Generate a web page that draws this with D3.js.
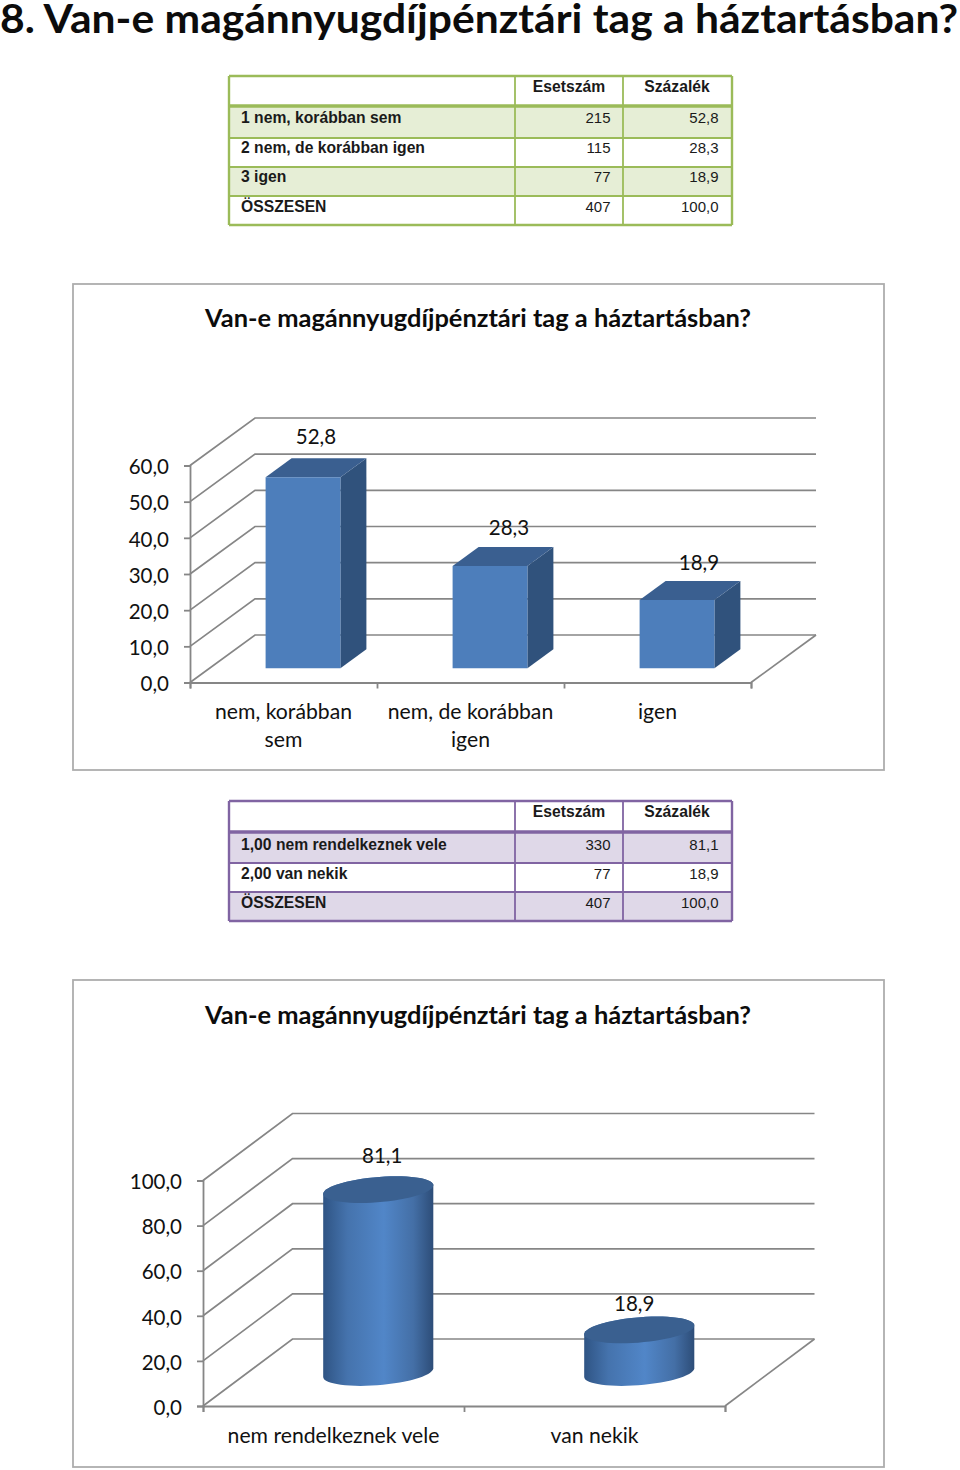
<!DOCTYPE html>
<html>
<head>
<meta charset="utf-8">
<script src="https://cdnjs.cloudflare.com/ajax/libs/d3/7.8.5/d3.min.js"></script>
<style>
  html, body { margin: 0; padding: 0; background: #fff; }
  svg { display: block; }
  .axis path, .axis line { stroke: #868686; stroke-width: 1.8; }
  .axis text { font-family: Lato, sans-serif; font-size: 20.5px; fill: #111; }
  .lbl { font-family: Lato, sans-serif; font-size: 20.5px; fill: #111; }
  .cat { font-family: Lato, sans-serif; font-size: 21.2px; fill: #111; }
  .ttl { font-family: Lato, sans-serif; font-weight: 700; fill: #0c0c0c; }
  .tbl { font-family: "Liberation Sans", Arial, sans-serif; font-size: 15px; fill: #1a1a1a; }
  .tbl.b { font-size: 15.7px; font-weight: bold; }
</style>
</head>
<body>
<svg id="page" width="960" height="1470"></svg>
<script>
const heading = "8. Van-e magánnyugdíjpénztári tag a háztartásban?"
const chartTitle = "Van-e magánnyugdíjpénztári tag a háztartásban?"
const tableHead = ["Esetszám", "Százalék"]

// first table + chart
const rows1 = ["1 nem, korábban sem", "2 nem, de korábban igen", "3 igen", "ÖSSZESEN"]
const counts1 = [215, 115, 77, 407]
const pcts1 = ["52,8", "28,3", "18,9", "100,0"]
const cats1 = [["nem, korábban", "sem"], ["nem, de korábban", "igen"], ["igen"]]
const vals1 = [52.8, 28.3, 18.9]
const ticks1 = [0, 10, 20, 30, 40, 50, 60]

// second table + chart
const rows2 = ["1,00 nem rendelkeznek vele", "2,00 van nekik", "ÖSSZESEN"]
const counts2 = [330, 77, 407]
const pcts2 = ["81,1", "18,9", "100,0"]
const cats2 = [["nem rendelkeznek vele"], ["van nekik"]]
const vals2 = [81.1, 18.9]
const ticks2 = [0, 20, 40, 60, 80, 100]

const fmt = d => d.toFixed(1).replace(".", ",")
const svg = d3.select("#page")

// gradient for the cylinders
const grad = svg.append("defs").append("linearGradient").attr("id", "cyl")
grad.append("stop").attr("offset", "0%").attr("stop-color", "#2f5484")
grad.append("stop").attr("offset", "22%").attr("stop-color", "#4573ad")
grad.append("stop").attr("offset", "55%").attr("stop-color", "#5186c8")
grad.append("stop").attr("offset", "82%").attr("stop-color", "#446fa6")
grad.append("stop").attr("offset", "100%").attr("stop-color", "#2d4d78")

svg.append("text").attr("class", "ttl").attr("x", 0).attr("y", 32.5)
  .attr("font-size", 40).attr("textLength", 958).attr("lengthAdjust", "spacingAndGlyphs").text(heading)

drawTable({ top: 76, head: 106, lines: [138, 167, 196], bottom: 225, line: "#9bbb59", fill: "#e6eed6",
  headBase: 91.5, bases: [123, 152.5, 182, 211.5] }, rows1, counts1, pcts1)
drawTable({ top: 801, head: 832, lines: [863, 892], bottom: 921, line: "#8064a2", fill: "#dfd8e8",
  headBase: 816.5, bases: [849.5, 879, 908] }, rows2, counts2, pcts2)

drawChart({ box: [73, 284, 811, 486], titleY: 326.5, x0: 190, x1: 751, y0: 682.5, yTop: 465.5, dx: 65, dy: -47.5,
  max: 60, ticks: ticks1, cats: cats1, vals: vals1, catY: 718.5, labelDx: [0, 6, 9], labelDy: [0, 2, 3], barW: 0.4, shape: "box" })
drawChart({ box: [73, 980, 811, 487], titleY: 1023.5, x0: 203, x1: 725, y0: 1406, yTop: 1180.5, dx: 89.5, dy: -67,
  max: 100, ticks: ticks2, cats: cats2, vals: vals2, catY: 1442.5, labelDx: [4, -5], labelDy: [0, 8], barW: 0.42, shape: "cyl" })

function drawTable(t, rows, counts, pcts) {
  const xL = 229, xA = 515, xB = 623, xR = 732
  const g = svg.append("g")

  // every other row is tinted, the header row is not
  const allLines = [t.head].concat(t.lines, [t.bottom])
  rows.forEach((r, i) => {
    if (i % 2 == 0) {
      g.append("rect").attr("x", xL).attr("y", allLines[i]).attr("width", xR - xL)
        .attr("height", allLines[i + 1] - allLines[i]).attr("fill", t.fill)
    }
  })

  const hline = (y, w) => g.append("line").attr("x1", xL).attr("x2", xR).attr("y1", y).attr("y2", y)
    .attr("stroke", t.line).attr("stroke-width", w)
  hline(t.top, 2.4)
  hline(t.head, 3.4)
  t.lines.forEach(y => hline(y, 1.8))
  hline(t.bottom, 2.4)
  ;[xL, xA, xB, xR].forEach((x, i) => {
    g.append("line").attr("x1", x).attr("x2", x).attr("y1", t.top).attr("y2", t.bottom)
      .attr("stroke", t.line).attr("stroke-width", i == 0 || i == 3 ? 2.4 : 1.8)
  })

  tableHead.forEach((h, i) => {
    g.append("text").attr("class", "tbl b").attr("x", i == 0 ? 569 : 677).attr("y", t.headBase)
      .attr("text-anchor", "middle").style("font-weight", "normal").style("font-weight", "bold").text(h)
  })
  rows.forEach((r, i) => {
    g.append("text").attr("class", "tbl b").attr("x", 241).attr("y", t.bases[i]).text(r)
    g.append("text").attr("class", "tbl").attr("x", 610.5).attr("y", t.bases[i]).attr("text-anchor", "end").text(counts[i])
    g.append("text").attr("class", "tbl").attr("x", 718.5).attr("y", t.bases[i]).attr("text-anchor", "end").text(pcts[i])
  })
}

function drawChart(c) {
  const g = svg.append("g")
  const n = c.vals.length

  const y = d3.scaleLinear().domain([0, c.max]).range([c.y0, c.yTop])
  const x = d3.scaleBand().domain(d3.range(n)).range([c.x0, c.x1]).paddingInner(0).paddingOuter(0)
  const edge = d3.scaleLinear().domain([0, n]).range([c.x0, c.x1])
  // depth 0 = front plane, 1 = back wall
  const px = (xv, d) => xv + d * c.dx
  const py = (yv, d) => y(yv) + d * c.dy

  g.append("rect").attr("x", c.box[0]).attr("y", c.box[1]).attr("width", c.box[2]).attr("height", c.box[3])
    .attr("fill", "#fff").attr("stroke", "#adadad").attr("stroke-width", 1.8)

  g.append("text").attr("class", "ttl").attr("x", 478).attr("y", c.titleY).attr("text-anchor", "middle")
    .attr("font-size", 24.5).attr("textLength", 546).attr("lengthAdjust", "spacingAndGlyphs").text(chartTitle)

  // side wall and back wall grid
  c.ticks.forEach(t => {
    g.append("path")
      .attr("d", d3.line()([[c.x0, y(t)], [px(c.x0, 1), py(t, 1)], [px(c.x1, 1), py(t, 1)]]))
      .attr("fill", "none").attr("stroke", "#868686").attr("stroke-width", 1.7)
  })
  // floor right edge
  g.append("line").attr("x1", c.x1).attr("y1", y(0)).attr("x2", px(c.x1, 1)).attr("y2", py(0, 1))
    .attr("stroke", "#868686").attr("stroke-width", 1.7)

  c.vals.forEach((v, i) => {
    const w = x.bandwidth() * c.barW
    const cx = x(i) + x.bandwidth() / 2
    if (c.shape == "box") drawBox(g, cx, w, v, px, py)
    else drawCyl(g, cx, w, v, px, py)
  })

  const yAxis = d3.axisLeft(y).tickValues(c.ticks).tickFormat(fmt).tickSize(6).tickPadding(15)
  const yg = g.append("g").attr("class", "axis").attr("transform", `translate(${c.x0},0)`).call(yAxis)
  yg.selectAll("text").attr("dy", "0.4em")
  const xAxis = d3.axisBottom(edge).tickValues(d3.range(n + 1)).tickFormat("").tickSize(6)
  g.append("g").attr("class", "axis").attr("transform", `translate(0,${c.y0})`).call(xAxis)

  // value labels sit above the top of each column
  c.vals.forEach((v, i) => {
    const cx = x(i) + x.bandwidth() / 2
    g.append("text").attr("class", "lbl").attr("text-anchor", "middle")
      .attr("x", px(cx, 0.5) + c.labelDx[i])
      .attr("y", py(v, 0.5) - (c.shape == "box" ? 23.5 : 27) + c.labelDy[i])
      .text(fmt(v))
  })

  c.cats.forEach((lines, i) => {
    lines.forEach((s, j) => {
      g.append("text").attr("class", "cat").attr("text-anchor", "middle")
        .attr("x", x(i) + x.bandwidth() / 2).attr("y", c.catY + j * 28).text(s)
    })
  })
}

function drawBox(g, cx, w, v, px, py) {
  const l = cx - w / 2, r = cx + w / 2, d0 = 0.3, d1 = 0.7
  const poly = (pts, col) => g.append("path").attr("d", d3.line()(pts) + "Z").attr("fill", col)
  // right side
  poly([[px(r, d0), py(0, d0)], [px(r, d1), py(0, d1)], [px(r, d1), py(v, d1)], [px(r, d0), py(v, d0)]], "#30527c")
  // top
  poly([[px(l, d0), py(v, d0)], [px(r, d0), py(v, d0)], [px(r, d1), py(v, d1)], [px(l, d1), py(v, d1)]], "#3a5f90")
  // front
  poly([[px(l, d0), py(0, d0)], [px(r, d0), py(0, d0)], [px(r, d0), py(v, d0)], [px(l, d0), py(v, d0)]], "#4d7ebb")
}

function drawCyl(g, cx, w, v, px, py) {
  const f = 0.2
  const a = w * 0.475
  const ring = yv => d3.range(0, 361, 6).map(deg => {
    const t = deg * Math.PI / 180
    const d = 0.5 + f * Math.sin(t)
    return [px(cx + a * Math.cos(t), d), py(yv, d)]
  })
  const top = ring(v), bot = ring(0)
  // body = hull of the two rings, so the sides stay tangent to the ellipses
  const hull = d3.polygonHull(top.concat(bot))
  g.append("path").attr("d", d3.line()(hull) + "Z").attr("fill", "url(#cyl)")
  g.append("path").attr("d", d3.line()(top) + "Z").attr("fill", "#3a6090")
}
</script>
</body>
</html>
